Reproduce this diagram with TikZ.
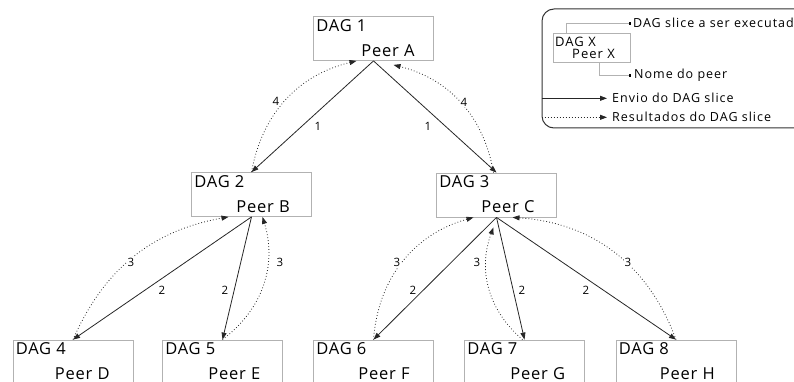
\documentclass[tikz,border=0pt]{standalone}
\usepackage{fontspec}
\setmainfont{Open Sans}
\newfontfamily\bigf{Open Sans}[LetterSpace=5]
\newfontfamily\smallf{Open Sans}[LetterSpace=8]
\usetikzlibrary{arrows.meta,calc}
\begin{document}
\begin{tikzpicture}[x=1pt,y=-1pt,
  box/.style={draw=black!30, line width=0.8pt, minimum width=120pt, minimum height=44pt, inner sep=0pt},
  dagt/.style={anchor=base west, inner sep=0pt, font=\bigf\fontsize{16.5}{19}\selectfont},
  send/.style={draw=black!85, line width=0.8pt, -{Triangle[length=7pt,width=5pt]}},
  res/.style={draw=black!85, line width=0.8pt, dash pattern=on 0.8pt off 2.2pt, -{Triangle[length=7pt,width=5pt]}},
  lbl/.style={inner sep=0.6pt, fill=white, font=\fontsize{11.5}{13}\selectfont},
  legt/.style={anchor=base west, inner sep=0pt, font=\smallf\fontsize{12.5}{15}\selectfont},
  legx/.style={anchor=base west, inner sep=0pt, font=\smallf\fontsize{13}{15}\selectfont},
  guide/.style={draw=black!30, line width=0.7pt, -{Square[length=2pt,width=2pt,black]}},
]
\useasboundingbox (0,0) rectangle (794,382);
\clip (0,0) rectangle (794,382);

% boxes
\node[box] (a) at (373.5,38.5) {};
\node[box] (b) at (251.5,194.5) {};
\node[box] (c) at (496.5,195) {};
\node[box] (d4) at (73,362) {};
\node[box] (d5) at (222.5,362) {};
\node[box] (d6) at (373.5,362) {};
\node[box] (d7) at (524.5,362) {};
\node[box] (d8) at (676,362) {};

% texts
\foreach \n/\k/\p/\dx in {a/1/A/48, b/2/B/45, c/3/C/45, d4/4/D/42, d5/5/E/46, d6/6/F/45, d7/7/G/46, d8/8/H/44}{
  \node[dagt] (t\n) at ($(\n.north west)+(3,15)$) {DAG \k};
  \node[dagt] (p\n) at ($(\n.north west)+(\dx,40)$) {Peer \p};
}

% level 1
\draw[send] (a.south) -- (b.north) node[lbl] at (318,126) {1};
\draw[send] (a.south) -- (c.north) node[lbl] at (428,126) {1};
\draw[res] (b.north) to[bend left=33] ([xshift=-17pt]a.south) node[lbl] at (276,101) {4};
\draw[res] ([xshift=-3pt]c.north) to[bend right=33] ([shift={(20,4)}]a.south) node[lbl] at (464,102) {4};

% level 2
\draw[send] (b.south) -- (d4.north) node[lbl] at (162,290) {2};
\draw[send] (b.south) -- (d5.north) node[lbl] at (225,290) {2};
\draw[send] (c.south) -- (d6.north) node[lbl] at (413,290) {2};
\draw[send] (c.south) -- (d7.north) node[lbl] at (522,290) {2};
\draw[send] (c.south) -- (d8.north) node[lbl] at (586,290) {2};

\draw[res] (d4.north) to[bend left=28] ([xshift=-23pt]b.south) node[lbl] at (131,262) {3};
\draw[res] (d5.north) to[bend right=35] ([xshift=11pt]b.south) node[lbl] at (280,262) {3};
\draw[res] (d6.north) to[bend left=35] ([xshift=-23pt]c.south) node[lbl] at (397,262) {3};
\draw[res] ([xshift=-2pt]d7.north) to[bend left=35] ([shift={(-3,10)}]c.south) node[lbl] at (477,262) {3};
\draw[res] (d8.north) to[bend right=33] ([xshift=16pt]c.south) node[lbl] at (628,262) {3};

% legend
\node[draw=black!80, line width=1pt, rounded corners=12pt, minimum width=270pt, minimum height=119pt, inner sep=0pt] (leg) at (677,68.5) {};
\node[draw=black!30, line width=0.8pt, minimum width=77pt, minimum height=29pt, inner sep=0pt] (lx) at (591.5,47.5) {};
\node[legx] (lxd) at (555,47) {DAG X};
\node[legx] (lxp) at (572,59) {Peer X};
\node[legt] (lt1) at (633,28) {DAG slice a ser executado};
\node[legt] (lt2) at (634,78.5) {Nome do peer};
\draw[guide] ([xshift=14pt]lx.north west) |- ([xshift=-2pt]lt1.west);
\draw[guide] ([xshift=-31pt]lx.south east) |- ([xshift=-3pt]lt2.west);
\node[legt] (en) at (612,103) {Envio do DAG slice};
\node[legt] (rs) at (612,122) {Resultados do DAG slice};
\draw[send] (leg.west |- en.west) -- ([xshift=-5pt]en.west);
\draw[res] (leg.west |- rs.west) -- ([xshift=-5pt]rs.west);
\end{tikzpicture}
\end{document}
